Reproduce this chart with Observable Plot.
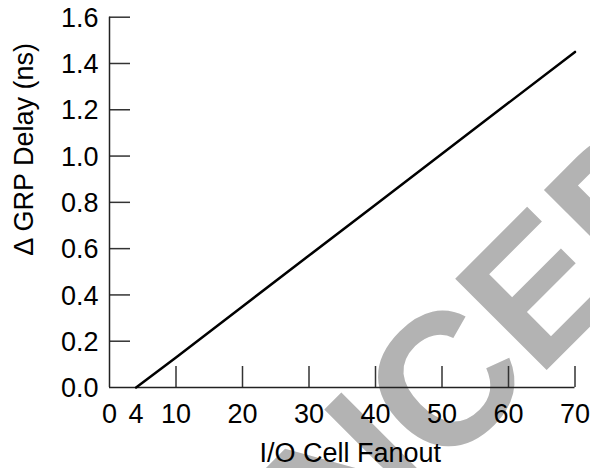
<!DOCTYPE html>
<html>
<head>
<meta charset="utf-8">
<script src="https://cdn.jsdelivr.net/npm/d3@7"></script>
<script src="https://cdn.jsdelivr.net/npm/@observablehq/plot@0.6"></script>
<style>
  html, body { margin: 0; padding: 0; background: #fff; overflow: hidden; }
</style>
</head>
<body>
<div id="chart"></div>
<script>
// ---- data ----
const fanout = [4, 10, 20, 30, 40, 50, 60, 70];
const grpDelay = [0.0, 0.13, 0.35, 0.57, 0.79, 1.01, 1.23, 1.45];
const xTickLabels = [0, 4, 10, 20, 30, 40, 50, 60, 70];
const xTickMarks = [10, 20, 30, 40, 50, 60, 70];
const yTickLabels = [0, 0.2, 0.4, 0.6, 0.8, 1.0, 1.2, 1.4, 1.6];
const yTickMarks = [0.2, 0.4, 0.6, 0.8, 1.0, 1.2, 1.4, 1.6];
const xLabel = "I/O Cell Fanout";
const yLabel = "\u0394 GRP Delay (ns)";
const watermark = "ADVANCED";

// ---- layout ----
const W = 590, H = 468;
const mL = 109, mR = 15.5, mT = 16.7, mB = 81;
const plotW = W - mL - mR, plotH = H - mT - mB;
const tickLen = 21;
const fs = 27;
const font = "'Liberation Sans', Arial, Helvetica, sans-serif";

const rows = fanout.map((f, i) => ({fanout: f, delay: grpDelay[i]}));

const chart = Plot.plot({
  width: W,
  height: H,
  marginLeft: mL,
  marginRight: mR,
  marginTop: mT,
  marginBottom: mB,
  style: {fontFamily: font, fontSize: fs + "px", color: "#000", background: "#fff"},
  x: {domain: [0, 70], axis: null},
  y: {domain: [0, 1.6], axis: null},
  marks: [
    // watermark (behind everything)
    Plot.text([watermark], {
      text: d => d,
      frameAnchor: "top-left",
      dx: 613, dy: 177,
      rotate: -45,
      textAnchor: "end",
      lineAnchor: "bottom",
      fontSize: 188,
      fontWeight: "bold",
      fontFamily: font,
      fill: "#b3b3b3"
    }),
    // inward tick marks
    Plot.tickY(yTickMarks, {y: d => d, insetRight: plotW - tickLen, stroke: "#333", strokeWidth: 1.5}),
    Plot.tickX(xTickMarks, {x: d => d, insetTop: plotH - tickLen, stroke: "#333", strokeWidth: 1.5}),
    // axis lines
    Plot.ruleX([0], {stroke: "#222", strokeWidth: 1.5}),
    Plot.ruleY([0], {stroke: "#222", strokeWidth: 1.5}),
    // tick labels
    Plot.axisY({ticks: yTickLabels, tickSize: 0, tickPadding: 11, tickFormat: d3.format(".1f"), label: null, dy: 1, fontSize: fs}),
    Plot.axisX({ticks: xTickLabels, tickSize: 0, tickPadding: 16, tickFormat: d => String(d), label: null, fontSize: fs}),
    // axis titles
    Plot.text([yLabel], {text: d => d, frameAnchor: "left", textAnchor: "middle", lineAnchor: "middle", rotate: -90, dx: -85, dy: -53, fontSize: fs}),
    Plot.text([xLabel], {text: d => d, frameAnchor: "bottom", textAnchor: "middle", lineAnchor: "middle", dx: 8, dy: 66, fontSize: fs}),
    // data line
    Plot.line(rows, {x: "fanout", y: "delay", stroke: "#000", strokeWidth: 2.5})
  ]
});

document.getElementById("chart").appendChild(chart);
</script>
</body>
</html>
